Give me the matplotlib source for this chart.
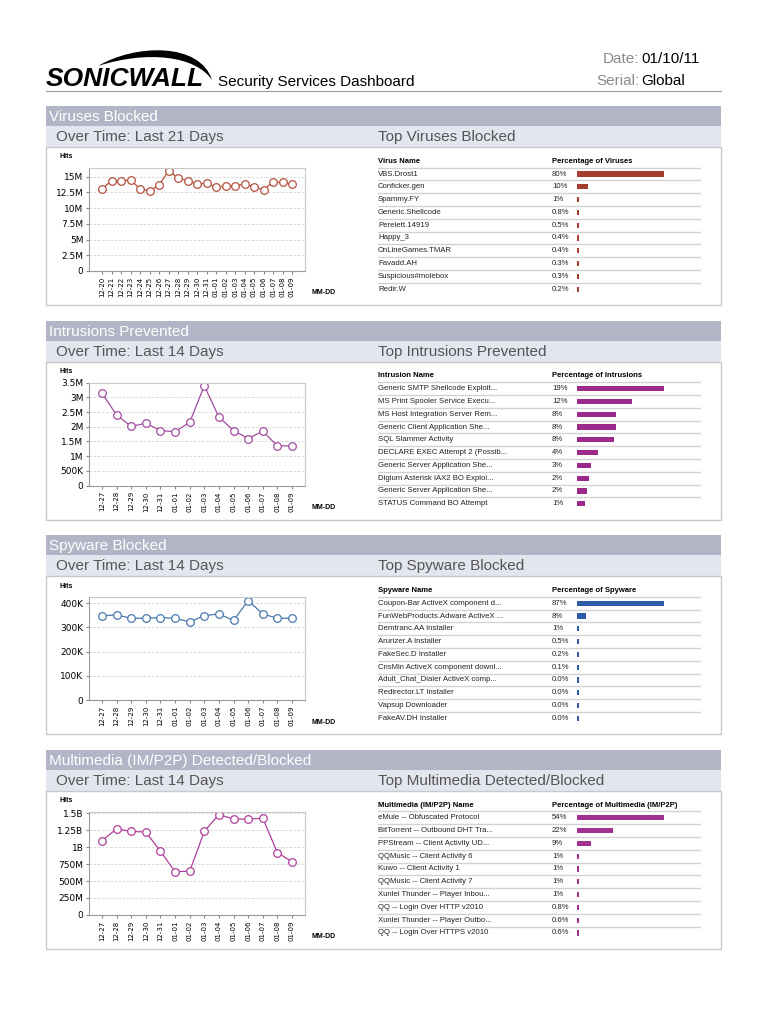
import numpy as np
import matplotlib
matplotlib.use('Agg')
import matplotlib.pyplot as plt
from matplotlib.patches import Rectangle, PathPatch
from matplotlib.path import Path
from matplotlib.ticker import FuncFormatter, MultipleLocator

W, H = 768, 1024
plt.rcParams['font.family'] = ['Liberation Sans', 'DejaVu Sans']

# ---- data ----
days21 = ['12-20', '12-21', '12-22', '12-23', '12-24', '12-25', '12-26', '12-27', '12-28', '12-29',
          '12-30', '12-31', '01-01', '01-02', '01-03', '01-04', '01-05', '01-06', '01-07', '01-08', '01-09']
days14 = days21[7:]

virus_hits_m = [13.1, 14.35, 14.35, 14.5, 13.1, 12.75, 13.65, 15.95, 14.85, 14.35, 13.85,
                13.95, 13.4, 13.5, 13.5, 13.9, 13.4, 12.9, 14.2, 14.1, 13.8]
intrusion_hits_m = [3.14, 2.4, 2.01, 2.12, 1.87, 1.83, 2.15, 3.39, 2.33, 1.87, 1.6, 1.85, 1.35, 1.35]
spyware_hits_k = [348, 352, 338, 338, 341, 338, 323, 349, 356, 329, 411, 356, 338, 338]
multimedia_hits_b = [1.1, 1.27, 1.235, 1.225, 0.94, 0.64, 0.645, 1.235, 1.485, 1.417, 1.417, 1.43, 0.92, 0.787]

virus_names = ['VBS.Drost1', 'Conficker.gen', 'Spammy.FY', 'Generic.Shellcode', 'Perelett.14919',
               'Happy_3', 'OnLineGames.TMAR', 'Favadd.AH', 'Suspicious#molebox', 'Redir.W']
virus_pct = ['80%', '10%', '1%', '0.8%', '0.5%', '0.4%', '0.4%', '0.3%', '0.3%', '0.2%']
virus_share = [80, 9.8, 1, 0.8, 0.5, 0.4, 0.4, 0.3, 0.3, 0.2]

intrusion_names = ['Generic SMTP Shellcode Exploit...', 'MS Print Spooler Service Execu...',
                   'MS Host Integration Server Rem...', 'Generic Client Application She...',
                   'SQL Slammer Activity', 'DECLARE EXEC Attempt 2 (Possib...',
                   'Generic Server Application She...', 'Digium Asterisk IAX2 BO Exploi...',
                   'Generic Server Application She...', 'STATUS Command BO Attempt']
intrusion_pct = ['19%', '12%', '8%', '8%', '8%', '4%', '3%', '2%', '2%', '1%']
intrusion_share = [19, 12, 8.5, 8.5, 8, 4.5, 3.1, 2.7, 2.25, 1.8]

spyware_names = ['Coupon-Bar ActiveX component d...', 'FunWebProducts.Adware ActiveX ...',
                 'Demtranc.AA Installer', 'Arurizer.A Installer', 'FakeSec.D Installer',
                 'CnsMin ActiveX component downl...', 'Adult_Chat_Dialer ActiveX comp...',
                 'Redirector.LT Installer', 'Vapsup Downloader', 'FakeAV.DH Installer']
spyware_pct = ['87%', '8%', '1%', '0.5%', '0.2%', '0.1%', '0.0%', '0.0%', '0.0%', '0.0%']
spyware_share = [87, 9, 1, 0.5, 0.2, 0.1, 0.0, 0.0, 0.0, 0.0]

multimedia_names = ['eMule -- Obfuscated Protocol', 'BitTorrent -- Outbound DHT Tra...',
                    'PPStream -- Client Activity UD...', 'QQMusic -- Client Activity 6',
                    'Kuwo -- Client Activity 1', 'QQMusic -- Client Activity 7',
                    'Xunlei Thunder -- Player Inbou...', 'QQ -- Login Over HTTP v2010',
                    'Xunlei Thunder -- Player Outbo...', 'QQ -- Login Over HTTPS v2010']
multimedia_pct = ['54%', '22%', '9%', '1%', '1%', '1%', '1%', '0.8%', '0.6%', '0.6%']
multimedia_share = [54, 22.5, 8.9, 1, 1, 1, 1, 0.8, 0.6, 0.6]

BAND = '#b1b5c6'
SUB = '#e3e6ee'
BORDER = '#c9c9c9'


def px_rect(x, y, w, h):
    # pixel box (top-left origin) -> figure fraction
    return [x / W, 1 - (y + h) / H, w / W, h / H]


def hits_fmt(v, pos):
    if v == 0:
        return '0'
    if v >= 1e9:
        return f'{v / 1e9:g}B'
    if v >= 1e6:
        return f'{v / 1e6:g}M'
    return f'{v / 1e3:g}K'


fig = plt.figure(figsize=(W / 100, H / 100), dpi=100)
bg = fig.add_axes([0, 0, 1, 1])
bg.set_xlim(0, W)
bg.set_ylim(H, 0)
bg.axis('off')

# ---- header ----
logo = Path([(98, 66), (135, 44), (200, 42), (212, 80),
             (196, 56), (148, 50), (98, 66), (98, 66)],
            [Path.MOVETO, Path.CURVE4, Path.CURVE4, Path.CURVE4,
             Path.CURVE4, Path.CURVE4, Path.CURVE4, Path.CLOSEPOLY])
bg.add_patch(PathPatch(logo, fc='black', ec='none'))
bg.text(46, 86, 'SONICWALL', fontsize=19, fontweight='bold', style='italic',
        va='baseline', ha='left')
bg.text(218, 86, 'Security Services Dashboard', fontsize=11, va='baseline')
bg.text(639, 63, 'Date:', fontsize=11, color='#8a8a8a', ha='right', va='baseline')
bg.text(641, 63, '01/10/11', fontsize=11, ha='left', va='baseline')
bg.text(639, 85, 'Serial:', fontsize=11, color='#8a8a8a', ha='right', va='baseline')
bg.text(641, 85, 'Global', fontsize=11, ha='left', va='baseline')
bg.plot([46, 721], [91, 91], color='#9a9a9a', lw=0.8)


def section(s, title, left, right):
    bg.add_patch(Rectangle((46, s), 675, 20, fc=BAND, ec='none'))
    bg.add_patch(Rectangle((46, s + 20), 675, 21, fc=SUB, ec='none'))
    bg.add_patch(Rectangle((46, s + 41), 675, 158, fc='white', ec=BORDER, lw=1))
    bg.text(49, s + 11, title, fontsize=11, color='white', va='center')
    bg.text(56, s + 31, left, fontsize=11, color='#555555', va='center')
    bg.text(378, s + 31, right, fontsize=11, color='#555555', va='center')


def line_chart(s, days, hits, scale, step, top, color):
    ax = fig.add_axes(px_rect(89, s + 62, 216, 103))
    n = len(days)
    pad = 13 / ((216 - 26) / (n - 1))
    x = np.arange(n)
    ax.plot(x, np.array(hits) * scale, color=color, lw=0.9, marker='o', ms=5.5,
            mfc='white', mec=color, mew=0.9)
    ax.set_xlim(-pad, n - 1 + pad)
    ax.set_ylim(0, top)
    ax.yaxis.set_major_locator(MultipleLocator(step))
    ax.yaxis.set_major_formatter(FuncFormatter(hits_fmt))
    ax.set_xticks(x)
    ax.set_xticklabels(days, rotation=90, fontsize=5, family='DejaVu Sans')
    ax.tick_params(axis='y', labelsize=6.5, length=2.5, color='#888888', pad=1.5)
    ax.tick_params(axis='x', length=2, color='#888888', pad=2)
    for lab in ax.get_yticklabels():
        lab.set_family('DejaVu Sans')
    ax.grid(axis='y', color='#d4d4d4', ls=(0, (3, 2)), lw=0.6)
    ax.set_axisbelow(True)
    for sp in ax.spines.values():
        sp.set_color('#c8c8c8')
        sp.set_linewidth(0.8)
    ax.spines['left'].set_color('#999999')
    ax.spines['bottom'].set_color('#999999')
    bg.text(60, s + 51, 'Hits', fontsize=5, fontweight='bold', va='center')
    bg.text(312, s + 187, 'MM-DD', fontsize=5, fontweight='bold', va='center')


def top_table(s, head_name, head_pct, names, pct, share, color):
    rows = len(names)
    tab = fig.add_axes(px_rect(378, s + 48.2, 323, 142))
    tab.set_xlim(378, 701)
    tab.set_ylim(rows - 0.45, -1.55)
    tab.axis('off')
    tab.text(378, -1, head_name, fontsize=5.5, fontweight='bold', va='center')
    tab.text(552, -1, head_pct, fontsize=5.5, fontweight='bold', va='center')
    for r in range(rows):
        tab.text(378, r, names[r], fontsize=5.6, color='#222222', va='center')
        tab.text(552, r, pct[r], fontsize=5.6, color='#222222', va='center')
        tab.plot([378, 701], [r - 0.5, r - 0.5], color='#d2d2d2', lw=1)
    bars = fig.add_axes(px_rect(577, s + 48.2, 87, 142))
    vmax = max(share)
    bars.barh(np.arange(rows), np.maximum(share, vmax * 0.025), height=0.4, color=color)
    bars.set_xlim(0, vmax)
    bars.set_ylim(rows - 0.45, -1.55)
    bars.axis('off')


tops = [106, 320.6, 535.2, 749.8]

section(tops[0], 'Viruses Blocked', 'Over Time: Last 21 Days', 'Top Viruses Blocked')
line_chart(tops[0], days21, virus_hits_m, 1e6, 2.5e6, 16.4e6, '#b5503f')
top_table(tops[0], 'Virus Name', 'Percentage of Viruses', virus_names, virus_pct, virus_share, '#a63c2b')

section(tops[1], 'Intrusions Prevented', 'Over Time: Last 14 Days', 'Top Intrusions Prevented')
line_chart(tops[1], days14, intrusion_hits_m, 1e6, 0.5e6, 3.5e6, '#a24c9e')
top_table(tops[1], 'Intrusion Name', 'Percentage of Intrusions', intrusion_names, intrusion_pct,
          intrusion_share, '#9b2a8c')

section(tops[2], 'Spyware Blocked', 'Over Time: Last 14 Days', 'Top Spyware Blocked')
line_chart(tops[2], days14, spyware_hits_k, 1e3, 100e3, 425e3, '#4a78b0')
top_table(tops[2], 'Spyware Name', 'Percentage of Spyware', spyware_names, spyware_pct,
          spyware_share, '#2d5ca6')

section(tops[3], 'Multimedia (IM/P2P) Detected/Blocked', 'Over Time: Last 14 Days',
        'Top Multimedia Detected/Blocked')
line_chart(tops[3], days14, multimedia_hits_b, 1e9, 250e6, 1.525e9, '#b0409c')
top_table(tops[3], 'Multimedia (IM/P2P) Name', 'Percentage of Multimedia (IM/P2P)', multimedia_names,
          multimedia_pct, multimedia_share, '#a1308f')

fig.savefig('out.png', dpi=100)
